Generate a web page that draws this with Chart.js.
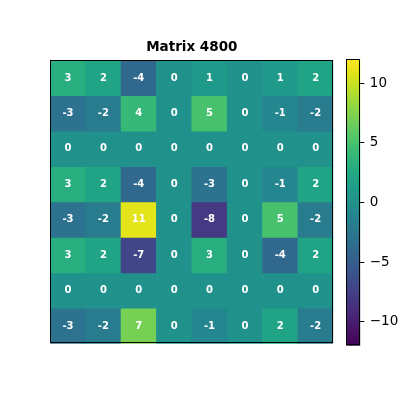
<!DOCTYPE html>
<html>
<head>
<meta charset="utf-8">
<script src="https://cdn.jsdelivr.net/npm/chart.js@4"></script>
<style>
  body { margin: 0; background: #fff; }
  #wrap { position: relative; width: 400px; height: 400px; }
  canvas { position: absolute; }
</style>
</head>
<body>
<div id="wrap">
  <canvas id="heat" width="400" height="400" style="left:0;top:0"></canvas>
  <canvas id="cbar" width="60" height="310" style="left:340px;top:50px"></canvas>
</div>
<script>
// matrix values, row by row (top row first)
var colLabels = ["0","1","2","3","4","5","6","7"];
var rowLabels = ["0","1","2","3","4","5","6","7"];
var values = [
  [ 3,  2, -4, 0,  1, 0,  1,  2],
  [-3, -2,  4, 0,  5, 0, -1, -2],
  [ 0,  0,  0, 0,  0, 0,  0,  0],
  [ 3,  2, -4, 0, -3, 0, -1,  2],
  [-3, -2, 11, 0, -8, 0,  5, -2],
  [ 3,  2, -7, 0,  3, 0, -4,  2],
  [ 0,  0,  0, 0,  0, 0,  0,  0],
  [-3, -2,  7, 0, -1, 0,  2, -2]
];
var vmin = -12, vmax = 12;
var cbTicks = [-10, -5, 0, 5, 10];

var viridis = ["#440154","#471365","#482475","#463480","#414487","#3b528b","#355f8d",
  "#2f6c8e","#2a788e","#25848e","#21918c","#1e9c89","#22a884","#2fb47c","#44bf70",
  "#5ec962","#7ad151","#9bd93c","#bddf26","#dfe318","#fde725"];

function hex(h) { return [1,3,5].map(function(i){ return parseInt(h.substr(i,2),16); }); }
function cmap(v) {
  var t = Math.max(0, Math.min(1, (v - vmin) / (vmax - vmin))) * (viridis.length - 1);
  var i = Math.min(Math.floor(t), viridis.length - 2), f = t - i;
  var a = hex(viridis[i]), b = hex(viridis[i+1]);
  return "rgb(" + a.map(function(x,k){ return Math.round(x + (b[k]-x)*f); }).join(",") + ")";
}

var FONT = "'DejaVu Sans', sans-serif";

var frame = {
  id: "frame",
  afterDraw: function(chart) {
    var a = chart.chartArea, c = chart.ctx;
    c.save();
    c.strokeStyle = "#000";
    c.lineWidth = 1;
    c.strokeRect(Math.round(a.left)+0.5, Math.round(a.top)+0.5,
      Math.round(a.right-a.left)-1, Math.round(a.bottom-a.top)-1);
    c.restore();
  }
};

var cellText = {
  id: "cellText",
  afterDatasetsDraw: function(chart) {
    var c = chart.ctx;
    c.save();
    c.fillStyle = "#fff";
    c.font = "bold 10px " + FONT;
    c.textAlign = "center";
    c.textBaseline = "middle";
    chart.data.datasets.forEach(function(ds, r) {
      chart.getDatasetMeta(r).data.forEach(function(el, j) {
        c.fillText(String(values[r][j]), el.x, (el.y + el.base) / 2);
      });
    });
    c.restore();
  }
};

var datasets = values.map(function(row, r) {
  return {
    label: rowLabels[r],
    data: row.map(function() { return [r - 0.5, r + 0.5]; }),
    backgroundColor: row.map(cmap),
    borderWidth: 0,
    barPercentage: 1,
    categoryPercentage: 1,
    grouped: false
  };
});

new Chart("heat", {
  type: "bar",
  data: { labels: colLabels, datasets: datasets },
  options: {
    responsive: false,
    animation: false,
    layout: { padding: { left: 50.3, right: 66.7, top: 0, bottom: 56.3 } },
    plugins: {
      legend: { display: false },
      tooltip: { enabled: false },
      title: {
        display: true,
        text: "Matrix 4800",
        color: "#000",
        fullSize: false,
        font: { family: FONT, size: 13.5, weight: "bold" },
        padding: { top: 39.5, bottom: 4.6 }
      }
    },
    scales: {
      x: { display: false },
      y: { display: false, min: -0.5, max: 7.5, reverse: true }
    }
  },
  plugins: [cellText, frame]
});

new Chart("cbar", {
  type: "bar",
  data: {
    labels: [""],
    datasets: [{
      data: [[vmin, vmax]],
      borderWidth: 0,
      barPercentage: 1,
      categoryPercentage: 1,
      backgroundColor: function(ctx) {
        var a = ctx.chart.chartArea;
        if (!a) return "transparent";
        var g = ctx.chart.ctx.createLinearGradient(0, a.bottom, 0, a.top);
        viridis.forEach(function(col, i) { g.addColorStop(i / (viridis.length - 1), col); });
        return g;
      }
    }]
  },
  options: {
    responsive: false,
    animation: false,
    layout: { padding: { left: 6.3, right: 0, top: 9.3, bottom: 14.3 } },
    plugins: { legend: { display: false }, tooltip: { enabled: false } },
    scales: {
      x: { display: false },
      y: {
        position: "right",
        min: vmin, max: vmax,
        afterFit: function(s) { s.width = 39.7; s.paddingTop = 0; s.paddingBottom = 0; },
        afterBuildTicks: function(s) { s.ticks = cbTicks.map(function(v){ return { value: v }; }); },
        grid: { drawOnChartArea: false, drawTicks: true, tickLength: 4, color: "#000" },
        border: { display: false },
        ticks: {
          color: "#000",
          padding: 5.5,
          font: { family: FONT, size: 13.5 },
          callback: function(v) { return String(v).replace("-", "\u2212"); }
        }
      }
    }
  },
  plugins: [frame]
});
</script>
</body>
</html>
